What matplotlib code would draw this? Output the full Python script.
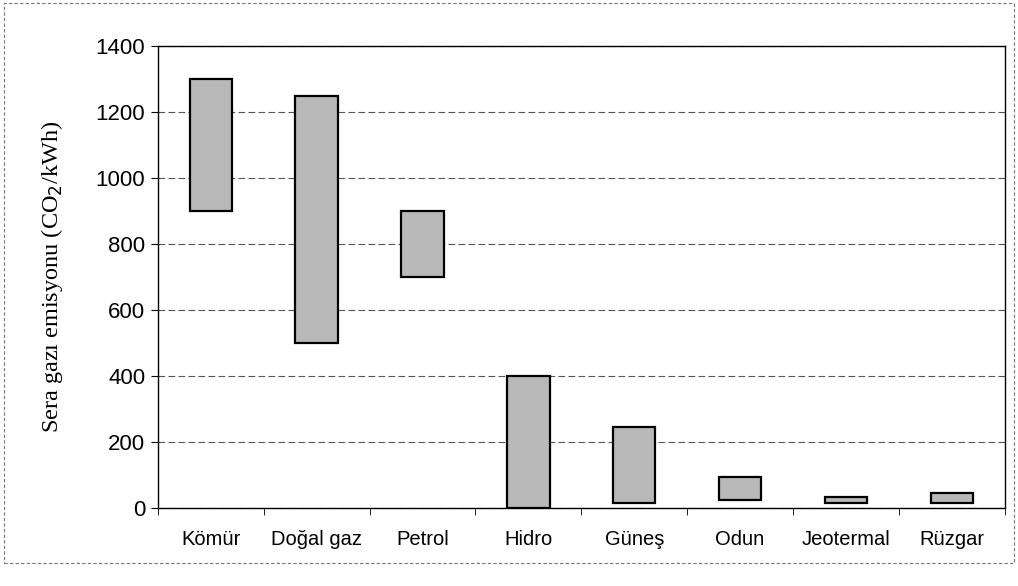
import matplotlib.pyplot as plt
from matplotlib.patches import Rectangle

# energy sources and their emission ranges (CO2 g/kWh)
sources = ['Kömür', 'Doğal gaz', 'Petrol', 'Hidro', 'Güneş', 'Odun', 'Jeotermal', 'Rüzgar']
low = [900, 500, 700, 0, 15, 25, 15, 15]
high = [1300, 1250, 900, 400, 245, 95, 35, 45]

fig = plt.figure(figsize=(10.18, 5.86), dpi=100)
ax = fig.add_axes([0.155, 0.133, 0.832, 0.788])

x = [i + 0.5 for i in range(len(sources))]
heights = [h - l for h, l in zip(high, low)]
ax.bar(x, heights, bottom=low, width=0.4, color='#b9b9b9', edgecolor='black', linewidth=1.6, zorder=3)

ax.set_xlim(0, len(sources))
ax.set_ylim(0, 1400)
ax.set_yticks(range(0, 1401, 200))
ax.set_yticklabels([str(v) for v in range(0, 1401, 200)], fontsize=16, family='Liberation Sans')

# category labels centred, tick marks on the boundaries
ax.set_xticks(x)
ax.set_xticklabels(sources, fontsize=14.5, family='Liberation Sans')
ax.tick_params(axis='x', length=0, pad=16)
ax.set_xticks(range(len(sources) + 1), minor=True)
ax.tick_params(axis='x', which='minor', length=5, direction='out')
ax.tick_params(axis='y', length=5, direction='out', pad=4)

ax.grid(axis='y', color='#555555', linestyle=(0, (6, 3)), linewidth=0.8, zorder=0)

for s in ax.spines.values():
    s.set_linewidth(1.0)

ax.set_ylabel('Sera gazı emisyonu (CO$_2$/kWh)', fontsize=17.5, family='Liberation Serif', labelpad=22)

# dashed frame of the scanned figure
fig.patches.append(Rectangle((0.004, 0.04), 0.992, 0.955, transform=fig.transFigure,
                             fill=False, edgecolor='#777777', linestyle=(0, (3, 2)), linewidth=0.8))

plt.savefig('out.png', dpi=100)
